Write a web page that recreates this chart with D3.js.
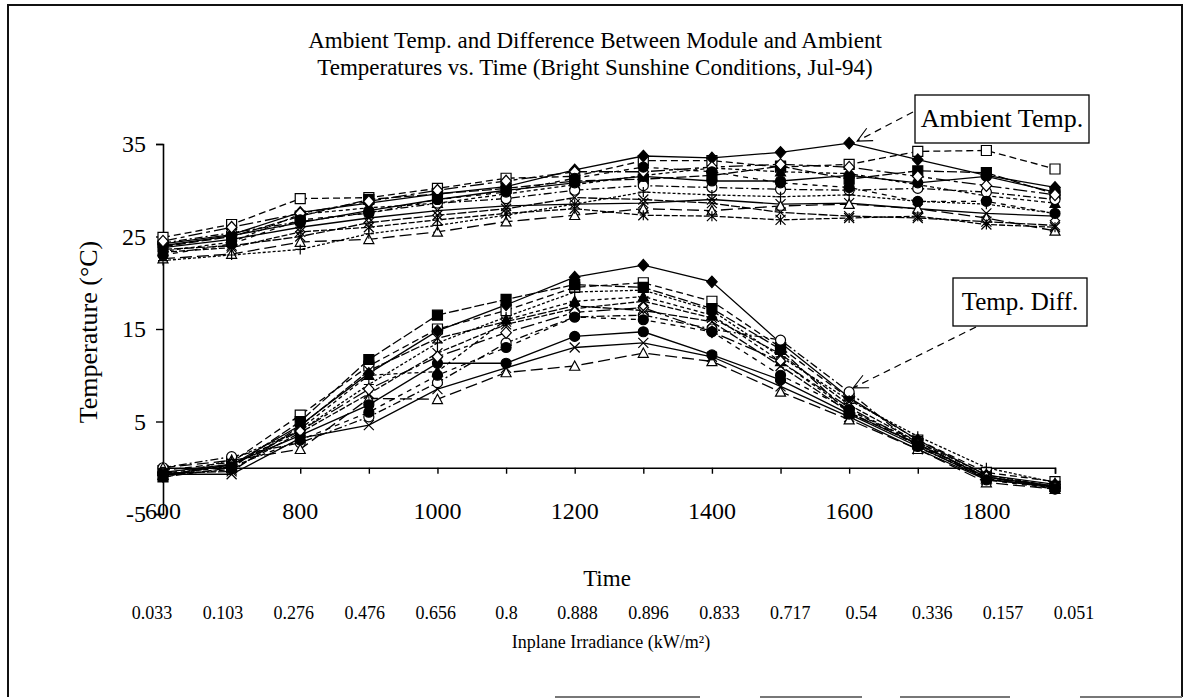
<!DOCTYPE html>
<html>
<head>
<meta charset="utf-8">
<script src="https://cdn.jsdelivr.net/npm/d3@7"></script>
<style>
  body { margin: 0; background: #fff; }
  svg { display: block; font-family: "Liberation Serif", "Times New Roman", serif; }
</style>
</head>
<body>
<svg id="chart" width="1187" height="700"></svg>
<script>
// time of day (x) and the irradiance row printed under the axis
const times = [600, 700, 800, 900, 1000, 1100, 1200, 1300, 1400, 1500, 1600, 1700, 1800, 1900];
const timeLabels = [600, 800, 1000, 1200, 1400, 1600, 1800];
const irradiance = ['0.033', '0.103', '0.276', '0.476', '0.656', '0.8', '0.888', '0.896', '0.833', '0.717', '0.54', '0.336', '0.157', '0.051'];
const yTicks = [-5, 5, 15, 25, 35];

// ambient temperature, one array per module record (°C)
const ambient01 = [24.9, 26.3, 29.1, 29.2, 30.2, 31.3, 31.5, 33.2, 33.2, 32.5, 32.8, 34.2, 34.3, 32.3];
const ambient02 = [24.2, 25.2, 27.6, 28.6, 29.6, 30.4, 32.2, 33.7, 33.5, 34.1, 35.1, 33.3, 31.6, 30.3];
const ambient03 = [23.9, 25.0, 27.2, 29.0, 29.6, 30.2, 31.0, 31.2, 31.6, 32.6, 31.2, 32.1, 31.9, 29.6];
const ambient04 = [23.4, 24.4, 27.4, 28.1, 28.6, 29.6, 30.6, 31.6, 32.4, 32.0, 31.8, 30.6, 29.4, 28.6];
const ambient05 = [23.8, 24.7, 26.0, 27.0, 27.8, 28.3, 28.5, 28.6, 29.0, 28.5, 28.6, 28.0, 27.5, 27.2];
const ambient06 = [24.3, 25.4, 26.6, 27.6, 28.6, 29.1, 30.0, 30.5, 30.3, 30.1, 30.0, 30.2, 29.8, 29.0];
const ambient07 = [22.6, 23.1, 24.4, 24.7, 25.5, 26.6, 27.3, 28.0, 27.8, 28.3, 28.5, 28.0, 27.0, 25.6];
const ambient08 = [22.4, 23.0, 23.6, 25.3, 26.2, 27.3, 28.5, 29.8, 29.5, 29.3, 29.5, 28.8, 28.5, 27.5];
const ambient09 = [24.0, 25.1, 26.5, 27.8, 29.0, 30.0, 30.8, 31.5, 31.0, 31.0, 31.6, 30.8, 31.5, 29.8];
const ambient10 = [23.3, 23.8, 25.5, 26.0, 26.8, 27.5, 28.0, 27.3, 27.2, 26.8, 27.0, 27.2, 26.3, 26.0];
const ambient11 = [24.5, 26.0, 27.5, 28.8, 30.0, 31.0, 32.0, 32.0, 32.5, 32.8, 32.5, 31.5, 30.5, 29.5];
const ambient12 = [23.0, 24.2, 26.8, 27.5, 29.0, 29.8, 31.3, 32.5, 32.0, 30.8, 30.3, 28.8, 28.8, 27.5];
const ambient13 = [23.6, 24.0, 25.0, 26.5, 27.3, 28.0, 29.2, 29.0, 28.6, 27.6, 27.2, 27.0, 26.6, 26.2];

// module minus ambient temperature (°C)
const diff01 = [-0.3, 0.6, 5.7, 11.0, 15.0, 17.0, 19.5, 20.0, 18.0, 13.0, 7.5, 3.0, -0.5, -1.5];
const diff02 = [-0.8, 0.3, 4.6, 10.2, 14.8, 17.6, 20.6, 21.9, 20.1, 13.5, 7.6, 3.0, -0.8, -1.8];
const diff03 = [-1.0, 0.0, 5.0, 11.7, 16.5, 18.2, 19.8, 19.5, 17.2, 12.8, 5.9, 2.6, -1.0, -2.0];
const diff04 = [-0.8, 0.2, 4.2, 10.0, 10.4, 16.0, 18.0, 18.5, 16.5, 11.5, 6.2, 2.8, -1.2, -2.1];
const diff05 = [-0.7, -0.7, 3.2, 4.6, 8.5, 10.8, 13.0, 13.5, 12.0, 8.8, 5.5, 2.0, -1.3, -2.0];
const diff06 = [0.0, 1.2, 2.7, 5.5, 9.2, 13.5, 16.3, 16.5, 15.0, 13.8, 8.2, 2.2, -1.0, -2.1];
const diff07 = [0.0, 0.8, 2.0, 7.5, 7.4, 10.3, 11.0, 12.4, 11.5, 8.2, 5.2, 2.0, -1.6, -2.3];
const diff08 = [-1.1, 0.9, 4.0, 9.0, 13.5, 16.3, 19.0, 19.2, 17.0, 12.0, 7.3, 3.4, 0.0, -1.6];
const diff09 = [-0.5, 0.4, 3.5, 6.8, 11.3, 11.3, 14.2, 14.7, 12.2, 9.5, 5.8, 2.3, -1.2, -2.2];
const diff10 = [-0.8, -0.2, 3.8, 8.0, 12.4, 15.5, 17.2, 18.0, 16.2, 12.3, 6.8, 2.8, -0.8, -2.0];
const diff11 = [-0.6, 0.3, 4.0, 8.5, 12.0, 14.6, 16.8, 17.3, 14.7, 11.5, 6.5, 2.5, -1.0, -2.2];
const diff12 = [-0.7, 0.1, 3.0, 6.0, 10.0, 13.0, 16.3, 16.0, 14.7, 10.0, 6.3, 2.4, -1.3, -2.3];
const diff13 = [-0.6, -0.4, 4.5, 10.5, 14.0, 15.8, 17.5, 17.0, 15.8, 11.0, 6.0, 2.5, -1.0, -2.0];

const ambientSeries = [ambient01, ambient02, ambient03, ambient04, ambient05, ambient06, ambient07,
  ambient08, ambient09, ambient10, ambient11, ambient12, ambient13];
const diffSeries = [diff01, diff02, diff03, diff04, diff05, diff06, diff07,
  diff08, diff09, diff10, diff11, diff12, diff13];

// black & white excel style: one marker and dash pattern per module
const markerTypes = ['squareOpen', 'diamond', 'square', 'triangle', 'x', 'circleOpen', 'triangleOpen',
  'plus', 'circle', 'star', 'diamondOpen', 'circle', 'x'];
const dashTypes = ['7,4', null, '10,3', '4,3', null, '8,3,2,3', '12,5', '3,2', null, '6,2', '14,4,4,4', '5,5', '9,2'];

const svg = d3.select('#chart');
const x = d3.scaleLinear().domain([600, 1900]).range([163, 1055]);
const y = d3.scaleLinear().domain([-5, 35]).range([514, 144]);

// scan frame
svg.append('path')
  .attr('d', 'M8,697V5H1182V697')
  .attr('fill', 'none').attr('stroke', '#111').attr('stroke-width', 2);
svg.append('g').selectAll('line')
  .data([[555, 700], [760, 862], [900, 1010], [1080, 1182]])
  .join('line')
  .attr('x1', (d) => d[0]).attr('x2', (d) => d[1])
  .attr('y1', 697).attr('y2', 697)
  .attr('stroke', '#777').attr('stroke-width', 2);

// title
svg.append('text')
  .attr('x', 595).attr('y', 48)
  .attr('text-anchor', 'middle').attr('font-size', 23)
  .text('Ambient Temp. and Difference Between Module and Ambient');
svg.append('text')
  .attr('x', 595).attr('y', 75)
  .attr('text-anchor', 'middle').attr('font-size', 23)
  .text('Temperatures vs. Time (Bright Sunshine Conditions, Jul-94)');

// y axis
const yAxis = svg.append('g')
  .attr('transform', `translate(${x(600)},0)`)
  .call(d3.axisLeft(y).tickValues(yTicks).tickSize(7).tickPadding(10).tickFormat((d) => String(d)));
yAxis.select('.domain').attr('stroke', '#000').attr('stroke-width', 1.6);
yAxis.selectAll('line').attr('stroke-width', 1.4);
yAxis.selectAll('text').attr('font-size', 24).attr('font-family', 'Liberation Serif');

// x axis sits on 0, labels sit at the bottom of the plot
const xAxis = svg.append('g')
  .attr('transform', `translate(0,${y(0)})`)
  .call(d3.axisBottom(x).tickValues(times).tickSize(6).tickFormat(''));
xAxis.select('.domain').attr('stroke', '#000').attr('stroke-width', 1.6);
xAxis.selectAll('line').attr('stroke-width', 1.4);

svg.append('g').selectAll('text')
  .data(timeLabels)
  .join('text')
  .attr('x', (d) => x(d))
  .attr('y', y(-5) + 5)
  .attr('text-anchor', 'middle')
  .attr('font-size', 24)
  .text((d) => d);

svg.append('text')
  .attr('x', 607).attr('y', 586)
  .attr('text-anchor', 'middle').attr('font-size', 23)
  .text('Time');

const irr = d3.scalePoint().domain(irradiance.map((d, i) => i)).range([152, 1074]);
svg.append('g').selectAll('text')
  .data(irradiance)
  .join('text')
  .attr('x', (d, i) => irr(i))
  .attr('y', 619)
  .attr('text-anchor', 'middle')
  .attr('font-size', 18)
  .text((d) => d);

svg.append('text')
  .attr('x', 611).attr('y', 648)
  .attr('text-anchor', 'middle').attr('font-size', 18)
  .text('Inplane Irradiance (kW/m²)');

svg.append('text')
  .attr('transform', 'translate(97,332) rotate(-90)')
  .attr('text-anchor', 'middle').attr('font-size', 26)
  .text('Temperature (°C)');

// series
function markerPath(type, s) {
  const h = s / 2;
  switch (type) {
    case 'square':
    case 'squareOpen':
      return `M${-h},${-h}h${s}v${s}h${-s}Z`;
    case 'diamond':
    case 'diamondOpen':
      return `M0,${-h * 1.15}L${h * 1.05},0L0,${h * 1.15}L${-h * 1.05},0Z`;
    case 'triangle':
    case 'triangleOpen':
      return `M0,${-h}L${h},${h * 0.85}L${-h},${h * 0.85}Z`;
    case 'circle':
    case 'circleOpen':
      return d3.symbol(d3.symbolCircle, Math.PI * h * h)();
    case 'x':
      return `M${-h},${-h}L${h},${h}M${-h},${h}L${h},${-h}`;
    case 'plus':
      return `M${-h},0H${h}M0,${-h}V${h}`;
    default:
      return `M${-h},${-h}L${h},${h}M${-h},${h}L${h},${-h}M0,${-h}V${h}`;
  }
}
const isFilled = (t) => ['square', 'diamond', 'triangle', 'circle'].includes(t);
const isOpen = (t) => t.endsWith('Open');

const line = d3.line().x((d, i) => x(times[i])).y((d) => y(d));

const allSeries = ambientSeries.map((values, i) => ({ values, k: i }))
  .concat(diffSeries.map((values, i) => ({ values, k: i })));

svg.append('g').selectAll('path')
  .data(allSeries)
  .join('path')
  .attr('d', (d) => line(d.values))
  .attr('fill', 'none')
  .attr('stroke', '#000')
  .attr('stroke-width', 1.3)
  .attr('stroke-dasharray', (d) => dashTypes[d.k]);

const pts = svg.append('g').selectAll('g')
  .data(allSeries)
  .join('g');
pts.selectAll('path')
  .data((d) => d.values.map((v, i) => ({ v, i, type: markerTypes[d.k] })))
  .join('path')
  .attr('transform', (d) => `translate(${x(times[d.i])},${y(d.v)})`)
  .attr('d', (d) => markerPath(d.type, 10))
  .attr('fill', (d) => (isFilled(d.type) ? '#000' : isOpen(d.type) ? '#fff' : 'none'))
  .attr('stroke', '#000')
  .attr('stroke-width', 1.2);

// callouts
function callout(label, box, target) {
  const g = svg.append('g');
  g.append('rect')
    .attr('x', box.x).attr('y', box.y).attr('width', box.w).attr('height', box.h)
    .attr('fill', '#fff').attr('stroke', '#000').attr('stroke-width', 1.3);
  g.append('text')
    .attr('x', box.x + box.w / 2).attr('y', box.y + box.h / 2 + 8)
    .attr('text-anchor', 'middle').attr('font-size', box.fs)
    .text(label);
  const sx = box.ax, sy = box.ay;
  g.append('line')
    .attr('x1', sx).attr('y1', sy).attr('x2', target[0]).attr('y2', target[1])
    .attr('stroke', '#000').attr('stroke-width', 1.2).attr('stroke-dasharray', '7,5');
  const ang = Math.atan2(sy - target[1], sx - target[0]);
  const head = [-0.45, 0.45].map((da) => [target[0] + 16 * Math.cos(ang + da), target[1] + 16 * Math.sin(ang + da)]);
  g.append('path')
    .attr('d', `M${head[0][0]},${head[0][1]}L${target[0]},${target[1]}L${head[1][0]},${head[1][1]}`)
    .attr('fill', 'none').attr('stroke', '#000').attr('stroke-width', 1.1);
}

callout('Ambient Temp.', { x: 915, y: 95, w: 174, h: 48, fs: 26, ax: 913, ay: 112 },
  [x(1600) + 8, y(ambient02[10]) - 2]);
callout('Temp. Diff.', { x: 953, y: 278, w: 134, h: 48, fs: 25, ax: 976, ay: 327 },
  [x(1600) + 4, y(diff06[10]) - 4]);
</script>
</body>
</html>
